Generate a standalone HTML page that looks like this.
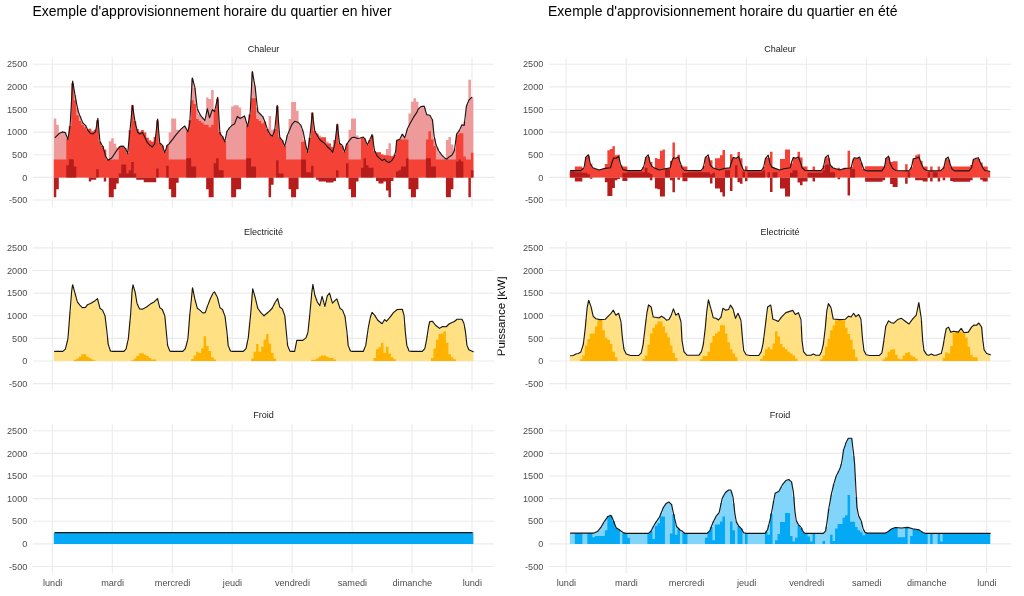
<!DOCTYPE html>
<html lang="fr"><head><meta charset="utf-8"><title>Approvisionnement horaire du quartier</title>
<style>
html,body{margin:0;padding:0;background:#fff}
body{width:1024px;height:596px;overflow:hidden}
svg{display:block;transform:translateZ(0);will-change:transform}
svg text{font-family:"Liberation Sans",Arial,Helvetica,sans-serif}
.ax text{font-size:9.15px;fill:#4d4d4d}
.st{font-size:9.05px;fill:#1a1a1a}
.ti{font-size:13.95px;fill:#000}
.yl{font-size:11.6px;fill:#000}
</style></head><body>
<svg width="1024" height="596" viewBox="0 0 1024 596"><rect width="1024" height="596" fill="#fff"/><clipPath id="cl"><rect x="497.6" y="260" width="40" height="120"/></clipPath><g clip-path="url(#cl)"><text class="yl" transform="translate(505.1 316.4) rotate(-90)" text-anchor="middle">Puissance [kW]</text></g><g stroke="#ebebeb" stroke-width="1.1"><line x1="32.9" x2="494.1" y1="200.03" y2="200.03"/><line x1="32.9" x2="494.1" y1="177.4" y2="177.4"/><line x1="32.9" x2="494.1" y1="154.77" y2="154.77"/><line x1="32.9" x2="494.1" y1="132.14" y2="132.14"/><line x1="32.9" x2="494.1" y1="109.51" y2="109.51"/><line x1="32.9" x2="494.1" y1="86.88" y2="86.88"/><line x1="32.9" x2="494.1" y1="64.25" y2="64.25"/><line x1="52.35" x2="52.35" y1="57.4" y2="207"/><line x1="112.3" x2="112.3" y1="57.4" y2="207"/><line x1="172.25" x2="172.25" y1="57.4" y2="207"/><line x1="232.2" x2="232.2" y1="57.4" y2="207"/><line x1="292.15" x2="292.15" y1="57.4" y2="207"/><line x1="352.1" x2="352.1" y1="57.4" y2="207"/><line x1="412.05" x2="412.05" y1="57.4" y2="207"/><line x1="472" x2="472" y1="57.4" y2="207"/></g><g class="ax"><text x="27.3" y="203.23" text-anchor="end">-500</text><text x="27.3" y="180.6" text-anchor="end">0</text><text x="27.3" y="157.97" text-anchor="end">500</text><text x="27.3" y="135.34" text-anchor="end">1000</text><text x="27.3" y="112.71" text-anchor="end">1500</text><text x="27.3" y="90.08" text-anchor="end">2000</text><text x="27.3" y="67.45" text-anchor="end">2500</text></g><text class="st" x="263.5" y="51.5" text-anchor="middle">Chaleur</text><g stroke="#ebebeb" stroke-width="1.1"><line x1="32.9" x2="494.1" y1="383.63" y2="383.63"/><line x1="32.9" x2="494.1" y1="361" y2="361"/><line x1="32.9" x2="494.1" y1="338.37" y2="338.37"/><line x1="32.9" x2="494.1" y1="315.74" y2="315.74"/><line x1="32.9" x2="494.1" y1="293.11" y2="293.11"/><line x1="32.9" x2="494.1" y1="270.48" y2="270.48"/><line x1="32.9" x2="494.1" y1="247.85" y2="247.85"/><line x1="52.35" x2="52.35" y1="241" y2="390.6"/><line x1="112.3" x2="112.3" y1="241" y2="390.6"/><line x1="172.25" x2="172.25" y1="241" y2="390.6"/><line x1="232.2" x2="232.2" y1="241" y2="390.6"/><line x1="292.15" x2="292.15" y1="241" y2="390.6"/><line x1="352.1" x2="352.1" y1="241" y2="390.6"/><line x1="412.05" x2="412.05" y1="241" y2="390.6"/><line x1="472" x2="472" y1="241" y2="390.6"/></g><g class="ax"><text x="27.3" y="386.83" text-anchor="end">-500</text><text x="27.3" y="364.2" text-anchor="end">0</text><text x="27.3" y="341.57" text-anchor="end">500</text><text x="27.3" y="318.94" text-anchor="end">1000</text><text x="27.3" y="296.31" text-anchor="end">1500</text><text x="27.3" y="273.68" text-anchor="end">2000</text><text x="27.3" y="251.05" text-anchor="end">2500</text></g><text class="st" x="263.5" y="235.1" text-anchor="middle">Electricité</text><g stroke="#ebebeb" stroke-width="1.1"><line x1="32.9" x2="494.1" y1="566.53" y2="566.53"/><line x1="32.9" x2="494.1" y1="543.9" y2="543.9"/><line x1="32.9" x2="494.1" y1="521.27" y2="521.27"/><line x1="32.9" x2="494.1" y1="498.64" y2="498.64"/><line x1="32.9" x2="494.1" y1="476.01" y2="476.01"/><line x1="32.9" x2="494.1" y1="453.38" y2="453.38"/><line x1="32.9" x2="494.1" y1="430.75" y2="430.75"/><line x1="52.35" x2="52.35" y1="424.3" y2="573"/><line x1="112.3" x2="112.3" y1="424.3" y2="573"/><line x1="172.25" x2="172.25" y1="424.3" y2="573"/><line x1="232.2" x2="232.2" y1="424.3" y2="573"/><line x1="292.15" x2="292.15" y1="424.3" y2="573"/><line x1="352.1" x2="352.1" y1="424.3" y2="573"/><line x1="412.05" x2="412.05" y1="424.3" y2="573"/><line x1="472" x2="472" y1="424.3" y2="573"/></g><g class="ax"><text x="27.3" y="569.73" text-anchor="end">-500</text><text x="27.3" y="547.1" text-anchor="end">0</text><text x="27.3" y="524.47" text-anchor="end">500</text><text x="27.3" y="501.84" text-anchor="end">1000</text><text x="27.3" y="479.21" text-anchor="end">1500</text><text x="27.3" y="456.58" text-anchor="end">2000</text><text x="27.3" y="433.95" text-anchor="end">2500</text></g><text class="st" x="263.5" y="418.4" text-anchor="middle">Froid</text><g stroke="#ebebeb" stroke-width="1.1"><line x1="548.9" x2="1011.2" y1="200.03" y2="200.03"/><line x1="548.9" x2="1011.2" y1="177.4" y2="177.4"/><line x1="548.9" x2="1011.2" y1="154.77" y2="154.77"/><line x1="548.9" x2="1011.2" y1="132.14" y2="132.14"/><line x1="548.9" x2="1011.2" y1="109.51" y2="109.51"/><line x1="548.9" x2="1011.2" y1="86.88" y2="86.88"/><line x1="548.9" x2="1011.2" y1="64.25" y2="64.25"/><line x1="566.1" x2="566.1" y1="57.4" y2="207"/><line x1="626.17" x2="626.17" y1="57.4" y2="207"/><line x1="686.24" x2="686.24" y1="57.4" y2="207"/><line x1="746.31" x2="746.31" y1="57.4" y2="207"/><line x1="806.38" x2="806.38" y1="57.4" y2="207"/><line x1="866.45" x2="866.45" y1="57.4" y2="207"/><line x1="926.52" x2="926.52" y1="57.4" y2="207"/><line x1="986.59" x2="986.59" y1="57.4" y2="207"/></g><g class="ax"><text x="543.3" y="203.23" text-anchor="end">-500</text><text x="543.3" y="180.6" text-anchor="end">0</text><text x="543.3" y="157.97" text-anchor="end">500</text><text x="543.3" y="135.34" text-anchor="end">1000</text><text x="543.3" y="112.71" text-anchor="end">1500</text><text x="543.3" y="90.08" text-anchor="end">2000</text><text x="543.3" y="67.45" text-anchor="end">2500</text></g><text class="st" x="780.05" y="51.5" text-anchor="middle">Chaleur</text><g stroke="#ebebeb" stroke-width="1.1"><line x1="548.9" x2="1011.2" y1="383.63" y2="383.63"/><line x1="548.9" x2="1011.2" y1="361" y2="361"/><line x1="548.9" x2="1011.2" y1="338.37" y2="338.37"/><line x1="548.9" x2="1011.2" y1="315.74" y2="315.74"/><line x1="548.9" x2="1011.2" y1="293.11" y2="293.11"/><line x1="548.9" x2="1011.2" y1="270.48" y2="270.48"/><line x1="548.9" x2="1011.2" y1="247.85" y2="247.85"/><line x1="566.1" x2="566.1" y1="241" y2="390.6"/><line x1="626.17" x2="626.17" y1="241" y2="390.6"/><line x1="686.24" x2="686.24" y1="241" y2="390.6"/><line x1="746.31" x2="746.31" y1="241" y2="390.6"/><line x1="806.38" x2="806.38" y1="241" y2="390.6"/><line x1="866.45" x2="866.45" y1="241" y2="390.6"/><line x1="926.52" x2="926.52" y1="241" y2="390.6"/><line x1="986.59" x2="986.59" y1="241" y2="390.6"/></g><g class="ax"><text x="543.3" y="386.83" text-anchor="end">-500</text><text x="543.3" y="364.2" text-anchor="end">0</text><text x="543.3" y="341.57" text-anchor="end">500</text><text x="543.3" y="318.94" text-anchor="end">1000</text><text x="543.3" y="296.31" text-anchor="end">1500</text><text x="543.3" y="273.68" text-anchor="end">2000</text><text x="543.3" y="251.05" text-anchor="end">2500</text></g><text class="st" x="780.05" y="235.1" text-anchor="middle">Electricité</text><g stroke="#ebebeb" stroke-width="1.1"><line x1="548.9" x2="1011.2" y1="566.53" y2="566.53"/><line x1="548.9" x2="1011.2" y1="543.9" y2="543.9"/><line x1="548.9" x2="1011.2" y1="521.27" y2="521.27"/><line x1="548.9" x2="1011.2" y1="498.64" y2="498.64"/><line x1="548.9" x2="1011.2" y1="476.01" y2="476.01"/><line x1="548.9" x2="1011.2" y1="453.38" y2="453.38"/><line x1="548.9" x2="1011.2" y1="430.75" y2="430.75"/><line x1="566.1" x2="566.1" y1="424.3" y2="573"/><line x1="626.17" x2="626.17" y1="424.3" y2="573"/><line x1="686.24" x2="686.24" y1="424.3" y2="573"/><line x1="746.31" x2="746.31" y1="424.3" y2="573"/><line x1="806.38" x2="806.38" y1="424.3" y2="573"/><line x1="866.45" x2="866.45" y1="424.3" y2="573"/><line x1="926.52" x2="926.52" y1="424.3" y2="573"/><line x1="986.59" x2="986.59" y1="424.3" y2="573"/></g><g class="ax"><text x="543.3" y="569.73" text-anchor="end">-500</text><text x="543.3" y="547.1" text-anchor="end">0</text><text x="543.3" y="524.47" text-anchor="end">500</text><text x="543.3" y="501.84" text-anchor="end">1000</text><text x="543.3" y="479.21" text-anchor="end">1500</text><text x="543.3" y="456.58" text-anchor="end">2000</text><text x="543.3" y="433.95" text-anchor="end">2500</text></g><text class="st" x="780.05" y="418.4" text-anchor="middle">Froid</text><path fill="#ef9a9a" d="M53.8 177.4H56.3V118.42H53.8ZM56.3 177.4H58.79V124.71H56.3ZM58.79 177.4H61.29V133.02H58.79ZM61.29 177.4H63.79V131.97H61.29ZM63.79 177.4H66.29V132.57H63.79ZM66.29 177.4H68.78V138.51H66.29ZM68.78 177.4H71.28V126.03H68.78ZM71.28 177.4H73.78V83.34H71.28ZM73.78 177.4H76.28V95.24H73.78ZM76.28 177.4H78.78V108.13H76.28ZM78.78 177.4H81.27V116.06H78.78ZM81.27 177.4H83.77V122.3H81.27ZM83.77 177.4H86.27V124.91H83.77ZM86.27 177.4H88.77V129.38H86.27ZM88.77 177.4H91.26V128.67H88.77ZM91.26 177.4H93.76V131.51H91.26ZM93.76 177.4H96.26V129.83H93.76ZM96.26 177.4H98.75V120.33H96.26ZM98.75 177.4H101.25V141.76H98.75ZM101.25 177.4H103.75V145.95H101.25ZM103.75 177.4H106.25V149.83H103.75ZM106.25 177.4H108.75V159.22H106.25ZM108.75 177.4H111.24V141.33H108.75ZM111.24 177.4H113.74V138.18H111.24ZM113.74 177.4H116.24V143.84H113.74ZM116.24 177.4H118.73V147.62H116.24ZM118.73 177.4H121.23V146.51H118.73ZM121.23 177.4H123.73V146.17H121.23ZM123.73 177.4H126.23V148H123.73ZM126.23 177.4H128.72V153.19H126.23ZM128.72 177.4H131.22V130.25H128.72ZM131.22 177.4H133.72V105.37H131.22ZM133.72 177.4H136.22V121.26H133.72ZM136.22 177.4H138.72V128.96H136.22ZM138.72 177.4H141.21V131.77H138.72ZM141.21 177.4H143.71V130.09H141.21ZM143.71 177.4H146.21V132.53H143.71ZM146.21 177.4H148.7V137.82H146.21ZM148.7 177.4H151.2V140.47H148.7ZM151.2 177.4H153.7V141.85H151.2ZM153.7 177.4H156.2V137.08H153.7ZM156.2 177.4H158.69V120.52H156.2ZM158.69 177.4H161.19V143.12H158.69ZM161.19 177.4H163.69V145.6H161.19ZM163.69 177.4H166.19V152.21H163.69ZM166.19 177.4H168.69V145.02H166.19ZM168.69 177.4H171.18V132.27H168.69ZM171.18 177.4H176.18V118.42H171.18ZM176.18 177.4H178.68V129.75H176.18ZM178.68 177.4H181.17V130.3H178.68ZM181.17 177.4H183.67V127.9H181.17ZM183.67 177.4H186.17V126.31H183.67ZM186.17 177.4H188.67V130.8H186.17ZM188.67 177.4H191.16V120.21H188.67ZM191.16 177.4H193.66V78.47H191.16ZM193.66 177.4H196.16V87.9H193.66ZM196.16 177.4H198.65V109.16H196.16ZM198.65 177.4H201.15V114.15H198.65ZM201.15 177.4H203.65V117.6H201.15ZM203.65 177.4H206.15V120.43H203.65ZM206.15 177.4H208.64V97.4H206.15ZM208.64 177.4H211.14V98.91H208.64ZM211.14 177.4H213.64V90.1H211.14ZM213.64 177.4H216.14V110.03H213.64ZM216.14 177.4H218.63V98.84H216.14ZM218.63 177.4H221.13V132.09H218.63ZM221.13 177.4H223.63V136.53H221.13ZM223.63 177.4H226.13V141.13H223.63ZM226.13 177.4H228.62V130.92H226.13ZM228.62 177.4H231.12V127.4H228.62ZM231.12 177.4H233.62V106.47H231.12ZM233.62 177.4H238.62V105.21H233.62ZM238.62 177.4H241.11V107.47H238.62ZM241.11 177.4H243.61V117.14H241.11ZM243.61 177.4H246.11V117.07H243.61ZM246.11 177.4H248.61V125.56H246.11ZM248.61 177.4H251.1V114.55H248.61ZM251.1 177.4H253.6V71.78H251.1ZM253.6 177.4H256.1V85.57H253.6ZM256.1 177.4H258.6V107.84H256.1ZM258.6 177.4H261.09V113.61H258.6ZM261.09 177.4H263.59V116.11H261.09ZM263.59 177.4H266.09V121.72H263.59ZM266.09 177.4H268.58V128.99H266.09ZM268.58 177.4H271.08V115.9H268.58ZM271.08 177.4H273.58V129.75H271.08ZM273.58 177.4H276.08V129.32H273.58ZM276.08 177.4H278.57V106.31H276.08ZM278.57 177.4H281.07V137.38H278.57ZM281.07 177.4H283.57V140.55H281.07ZM283.57 177.4H286.07V146H283.57ZM286.07 177.4H288.56V135.39H286.07ZM288.56 177.4H291.06V119.05H288.56ZM291.06 177.4H296.06V102.06H291.06ZM296.06 177.4H298.56V110.87H296.06ZM298.56 177.4H301.05V124.19H298.56ZM301.05 177.4H303.55V129.38H301.05ZM303.55 177.4H306.05V139.96H303.55ZM306.05 177.4H308.55V151.5H306.05ZM308.55 177.4H311.04V137.66H308.55ZM311.04 177.4H313.54V112.81H311.04ZM313.54 177.4H316.04V130.92H313.54ZM316.04 177.4H318.54V133.04H316.04ZM318.54 177.4H321.03V135.52H318.54ZM321.03 177.4H323.53V137.45H321.03ZM323.53 177.4H326.03V139.32H323.53ZM326.03 177.4H328.53V141.39H326.03ZM328.53 177.4H331.02V143.63H328.53ZM331.02 177.4H333.52V146.65H331.02ZM333.52 177.4H336.02V140.1H333.52ZM336.02 177.4H338.52V124.59H336.02ZM338.52 177.4H341.01V143.69H338.52ZM341.01 177.4H343.51V145.84H341.01ZM343.51 177.4H346.01V152.01H343.51ZM346.01 177.4H348.5V143.47H346.01ZM348.5 177.4H351V129.75H348.5ZM351 177.4H356V118.42H351ZM356 177.4H358.5V135.41H356ZM358.5 177.4H360.99V138.02H358.5ZM360.99 177.4H363.49V137.33H360.99ZM363.49 177.4H365.99V138.73H363.49ZM365.99 177.4H368.49V144.72H365.99ZM368.49 177.4H370.98V140.02H368.49ZM370.98 177.4H373.48V135.59H370.98ZM373.48 177.4H375.98V151.05H373.48ZM375.98 177.4H378.48V152.35H375.98ZM378.48 177.4H380.97V152.32H378.48ZM380.97 177.4H383.47V154.44H380.97ZM383.47 177.4H385.97V155.33H383.47ZM385.97 177.4H388.47V148.88H385.97ZM388.47 177.4H390.96V143.22H388.47ZM390.96 177.4H393.46V156.31H390.96ZM393.46 177.4H395.96V154.69H393.46ZM395.96 177.4H398.46V140.21H395.96ZM398.46 177.4H400.95V139.21H398.46ZM400.95 177.4H403.45V134.3H400.95ZM403.45 177.4H405.95V137.79H403.45ZM405.95 177.4H408.44V129.51H405.95ZM408.44 177.4H410.94V113.39H408.44ZM410.94 177.4H413.44V101.68H410.94ZM413.44 177.4H415.94V98.28H413.44ZM415.94 177.4H418.44V101.68H415.94ZM418.44 177.4H420.93V107.81H418.44ZM420.93 177.4H423.43V106.33H420.93ZM423.43 177.4H425.93V107.81H423.43ZM425.93 177.4H428.43V114.74H425.93ZM428.43 177.4H430.92V115.24H428.43ZM430.92 177.4H433.42V119.36H430.92ZM433.42 177.4H435.92V138.58H433.42ZM435.92 177.4H438.42V147.44H435.92ZM438.42 177.4H440.91V152.19H438.42ZM440.91 177.4H443.41V155.54H440.91ZM443.41 177.4H445.91V157.9H443.41ZM445.91 177.4H448.41V140.07H445.91ZM448.41 177.4H450.9V136.92H448.41ZM450.9 177.4H453.4V144.47H450.9ZM453.4 177.4H455.9V148.79H453.4ZM455.9 177.4H458.4V133.47H455.9ZM458.4 177.4H460.89V129.86H458.4ZM460.89 177.4H463.39V124.77H460.89ZM463.39 177.4H465.89V121.43H463.39ZM465.89 177.4H468.39V104.46H465.89ZM468.39 177.4H470.88V79.78H468.39ZM470.88 177.4H473.38V97.4H470.88Z"/><path fill="#f44336" d="M53.8 177.4H66.29V159.57H53.8ZM66.29 177.4H68.78V138.51H66.29ZM68.78 177.4H71.28V126.03H68.78ZM71.28 177.4H73.78V83.34H71.28ZM73.78 177.4H76.28V100.17H73.78ZM76.28 177.4H78.78V115.28H76.28ZM78.78 177.4H81.27V120.94H78.78ZM81.27 177.4H83.77V124.71H81.27ZM83.77 177.4H86.27V127.23H83.77ZM86.27 177.4H88.77V129.38H86.27ZM88.77 177.4H91.26V128.67H88.77ZM91.26 177.4H93.76V131.51H91.26ZM93.76 177.4H96.26V129.83H93.76ZM96.26 177.4H98.75V120.33H96.26ZM98.75 177.4H101.25V141.76H98.75ZM101.25 177.4H103.75V145.95H101.25ZM103.75 177.4H106.25V149.83H103.75ZM106.25 177.4H118.73V159.57H106.25ZM118.73 177.4H121.23V146.51H118.73ZM121.23 177.4H123.73V146.17H121.23ZM123.73 177.4H126.23V148H123.73ZM126.23 177.4H128.72V153.19H126.23ZM128.72 177.4H131.22V130.25H128.72ZM131.22 177.4H133.72V105.37H131.22ZM133.72 177.4H136.22V121.26H133.72ZM136.22 177.4H138.72V128.96H136.22ZM138.72 177.4H141.21V131.77H138.72ZM141.21 177.4H143.71V130.09H141.21ZM143.71 177.4H146.21V132.53H143.71ZM146.21 177.4H148.7V137.82H146.21ZM148.7 177.4H151.2V140.47H148.7ZM151.2 177.4H153.7V141.85H151.2ZM153.7 177.4H156.2V137.08H153.7ZM156.2 177.4H158.69V120.52H156.2ZM158.69 177.4H161.19V143.12H158.69ZM161.19 177.4H163.69V145.6H161.19ZM163.69 177.4H166.19V152.21H163.69ZM166.19 177.4H168.69V145.02H166.19ZM168.69 177.4H186.17V159.57H168.69ZM186.17 177.4H188.67V130.8H186.17ZM188.67 177.4H191.16V120.21H188.67ZM191.16 177.4H193.66V100.17H191.16ZM193.66 177.4H196.16V103.95H193.66ZM196.16 177.4H198.65V119.05H196.16ZM198.65 177.4H201.15V120.94H198.65ZM201.15 177.4H203.65V122.83H201.15ZM203.65 177.4H208.64V124.71H203.65ZM208.64 177.4H211.14V127.23H208.64ZM211.14 177.4H213.64V124.71H211.14ZM213.64 177.4H216.14V110.03H213.64ZM216.14 177.4H218.63V98.84H216.14ZM218.63 177.4H221.13V132.09H218.63ZM221.13 177.4H223.63V136.53H221.13ZM223.63 177.4H226.13V141.13H223.63ZM226.13 177.4H246.11V159.57H226.13ZM246.11 177.4H248.61V125.56H246.11ZM248.61 177.4H251.1V114.55H248.61ZM251.1 177.4H256.1V98.28H251.1ZM256.1 177.4H258.6V119.05H256.1ZM258.6 177.4H261.09V120.94H258.6ZM261.09 177.4H263.59V123.46H261.09ZM263.59 177.4H266.09V121.72H263.59ZM266.09 177.4H268.58V128.99H266.09ZM268.58 177.4H271.08V134.15H268.58ZM271.08 177.4H273.58V136.04H271.08ZM273.58 177.4H276.08V129.32H273.58ZM276.08 177.4H278.57V106.31H276.08ZM278.57 177.4H281.07V137.38H278.57ZM281.07 177.4H283.57V140.55H281.07ZM283.57 177.4H286.07V146H283.57ZM286.07 177.4H301.05V159.57H286.07ZM301.05 177.4H306.05V141.71H301.05ZM306.05 177.4H308.55V151.5H306.05ZM308.55 177.4H311.04V137.66H308.55ZM311.04 177.4H313.54V112.81H311.04ZM313.54 177.4H316.04V130.92H313.54ZM316.04 177.4H318.54V134.15H316.04ZM318.54 177.4H321.03V137.68H318.54ZM321.03 177.4H326.03V137.3H321.03ZM326.03 177.4H331.02V143.59H326.03ZM331.02 177.4H333.52V147.37H331.02ZM333.52 177.4H336.02V140.1H333.52ZM336.02 177.4H338.52V124.59H336.02ZM338.52 177.4H341.01V143.69H338.52ZM341.01 177.4H343.51V145.84H341.01ZM343.51 177.4H346.01V152.01H343.51ZM346.01 177.4H348.5V143.47H346.01ZM348.5 177.4H360.99V159.57H348.5ZM360.99 177.4H363.49V137.33H360.99ZM363.49 177.4H365.99V138.73H363.49ZM365.99 177.4H368.49V144.72H365.99ZM368.49 177.4H370.98V140.02H368.49ZM370.98 177.4H373.48V135.59H370.98ZM373.48 177.4H375.98V151.05H373.48ZM375.98 177.4H378.48V152.35H375.98ZM378.48 177.4H380.97V152.32H378.48ZM380.97 177.4H383.47V154.44H380.97ZM383.47 177.4H385.97V155.33H383.47ZM385.97 177.4H388.47V155.17H385.97ZM388.47 177.4H390.96V155.8H388.47ZM390.96 177.4H393.46V156.31H390.96ZM393.46 177.4H395.96V154.69H393.46ZM395.96 177.4H398.46V139.82H395.96ZM398.46 177.4H408.44V139.44H398.46ZM408.44 177.4H425.93V159.57H408.44ZM425.93 177.4H428.43V139.44H425.93ZM428.43 177.4H430.92V131.26H428.43ZM430.92 177.4H433.42V139.44H430.92ZM433.42 177.4H435.92V146.36H433.42ZM435.92 177.4H455.9V159.57H435.92ZM455.9 177.4H458.4V135.03H455.9ZM458.4 177.4H463.39V133.15H458.4ZM463.39 177.4H465.89V156.43H463.39ZM465.89 177.4H470.88V159.57H465.89ZM470.88 177.4H473.38V152.65H470.88Z"/><path fill="#b71c1c" d="M66.29 177.4H68.78V165.24H66.29ZM68.78 177.4H73.78V159.2H68.78ZM73.78 177.4H76.28V166.5H73.78ZM96.26 177.4H98.75V169.27H96.26ZM118.73 177.4H121.23V173.42H118.73ZM121.23 177.4H126.23V164.61H121.23ZM126.23 177.4H128.72V173.42H126.23ZM128.72 177.4H131.22V170.28H128.72ZM131.22 177.4H133.72V162.09H131.22ZM133.72 177.4H136.22V173.42H133.72ZM156.2 177.4H158.69V168.39H156.2ZM166.19 177.4H168.69V165.87H166.19ZM186.17 177.4H191.16V158.32H186.17ZM191.16 177.4H196.16V166.5H191.16ZM213.64 177.4H216.14V163.35H213.64ZM216.14 177.4H218.63V158.32H216.14ZM218.63 177.4H223.63V170.28H218.63ZM246.11 177.4H251.1V158.32H246.11ZM251.1 177.4H256.1V166.5H251.1ZM276.08 177.4H278.57V160.21H276.08ZM278.57 177.4H283.57V173.42H278.57ZM301.05 177.4H306.05V159.58H301.05ZM306.05 177.4H311.04V172.16H306.05ZM311.04 177.4H313.54V165.87H311.04ZM336.02 177.4H338.52V170.28H336.02ZM346.01 177.4H348.5V163.35H346.01ZM360.99 177.4H363.49V167.76H360.99ZM363.49 177.4H365.99V158.32H363.49ZM365.99 177.4H368.49V165.24H365.99ZM368.49 177.4H373.48V167.76H368.49ZM395.96 177.4H398.46V171.53H395.96ZM398.46 177.4H400.95V170.28H398.46ZM400.95 177.4H405.95V166.5H400.95ZM405.95 177.4H408.44V158.32H405.95ZM425.93 177.4H430.92V158.32H425.93ZM430.92 177.4H435.92V166.5H430.92ZM455.9 177.4H458.4V161.47H455.9ZM458.4 177.4H460.89V159.58H458.4ZM460.89 177.4H463.39V161.47H460.89ZM470.88 177.4H473.38V170.28H470.88Z"/><path fill="#b71c1c" d="M53.8 177.4H56.3V197.34H53.8ZM56.3 177.4H58.79V189.15H56.3ZM88.77 177.4H91.26V181.6H88.77ZM91.26 177.4H96.26V179.71H91.26ZM103.75 177.4H106.25V181.6H103.75ZM108.75 177.4H113.74V197.34H108.75ZM113.74 177.4H116.24V189.15H113.74ZM116.24 177.4H118.73V183.49H116.24ZM136.22 177.4H143.71V179.71H136.22ZM143.71 177.4H156.2V182.23H143.71ZM168.69 177.4H171.18V189.15H168.69ZM171.18 177.4H176.18V197.34H171.18ZM176.18 177.4H178.68V182.86H176.18ZM206.15 177.4H208.64V189.15H206.15ZM208.64 177.4H213.64V197.34H208.64ZM231.12 177.4H236.12V197.34H231.12ZM236.12 177.4H241.11V189.15H236.12ZM268.58 177.4H271.08V197.34H268.58ZM271.08 177.4H273.58V184.75H271.08ZM288.56 177.4H291.06V189.15H288.56ZM291.06 177.4H296.06V197.34H291.06ZM296.06 177.4H298.56V189.15H296.06ZM316.04 177.4H318.54V179.71H316.04ZM318.54 177.4H326.03V181.6H318.54ZM326.03 177.4H333.52V182.61H326.03ZM333.52 177.4H336.02V180.97H333.52ZM348.5 177.4H351V189.15H348.5ZM351 177.4H356V197.34H351ZM356 177.4H358.5V181.6H356ZM375.98 177.4H378.48V180.97H375.98ZM378.48 177.4H383.47V183.49H378.48ZM383.47 177.4H385.97V181.6H383.47ZM385.97 177.4H388.47V190.41H385.97ZM388.47 177.4H390.96V197.34H388.47ZM390.96 177.4H393.46V180.97H390.96ZM408.44 177.4H410.94V189.15H408.44ZM410.94 177.4H415.94V197.34H410.94ZM415.94 177.4H418.44V189.15H415.94ZM445.91 177.4H450.9V197.34H445.91ZM450.9 177.4H453.4V189.15H450.9ZM468.39 177.4H470.88V197.34H468.39Z"/><polyline fill="none" stroke="#161616" stroke-width="1.12" stroke-linejoin="round" stroke-linecap="round" points="55.29,137.3 59.07,133.53 62.22,131.89 65.36,132.64 67.88,139.44 70.14,125.34 72.66,81.04 75.43,97.65 78.2,111.5 80.47,117.16 82.73,122.83 85.5,125.34 88.02,130.38 90.53,133.53 93.05,133.9 95.57,131.64 97.83,118.42 99.97,141.71 103.12,146.99 105.64,156.43 108.15,160.21 111.93,157.69 116.96,150.14 120.11,146.36 123.26,146.11 125.77,148.88 127.66,153.66 132.45,105.21 135.21,122.83 137.73,132.27 139.87,134.15 142.39,132.27 144.65,136.67 147.17,142.34 149.69,145.1 152.21,146.99 154.72,143.84 157.62,119.05 159.76,142.96 162.27,145.1 164.79,152.65 167.31,145.1 169,143.97 172.78,139.19 176.55,134.15 180.96,129.12 184.73,125.97 187.88,131.64 189.77,122.83 192.28,78.02 194.8,86.96 197.32,108.98 200.47,115.28 204.87,120.56 207.39,108.73 209.53,117.79 212.42,109.61 214.56,111.5 217.71,97.4 219.97,133.53 222.49,136.67 224.76,141.71 226.9,131.64 229.41,127.86 231.93,125.34 234.45,124.09 237.34,116.53 240.11,118.42 244.52,115.9 247.66,126.6 250.18,112.76 252.32,71.6 255.21,87.59 257.73,111.5 262.77,116.53 265.28,122.83 267.8,130.38 270.32,134.78 272.46,136.04 274.72,130.38 277.24,105.21 279.76,137.3 282.27,140.45 284.79,146.11 287.31,135.41 290.46,127.86 292.15,124.09 294.66,121.32 297.81,122.2 300.96,125.34 303.47,132.9 305.36,142.96 307.5,152.4 309.77,137.93 312.28,112.76 314.8,131.01 317.32,135.41 319.84,139.82 322.35,141.71 324.87,143.59 327.39,146.74 330.53,149.51 332.67,152.4 334.94,142.96 337.2,124.09 339.6,143.59 341.86,144.85 344.76,152.03 346.27,144.85 349.41,140.45 351.93,137.55 354.45,137.3 357.59,138.56 360.11,137.93 363.26,137.05 365.15,139.19 367.29,144.85 369.55,140.45 372.07,134.53 374.59,150.77 377.1,155.8 379.62,158.32 382.14,160.58 384.4,159.2 386.54,161.47 389.06,162.47 391.58,160.84 394.09,157.06 395.73,150.77 396.61,140.45 399.76,139.19 402.27,134.15 404.79,137.93 407.31,129.12 410.46,122.83 413.6,117.16 417,112.13 417.88,109.61 421.03,106.47 424.17,106.09 426.69,114.65 429.84,115.28 432.35,119.68 434.24,136.67 436.13,145.1 438.65,150.77 441.79,155.17 444.31,157.69 446.83,159.2 449.34,156.68 451.86,155.17 454.38,150.77 456.64,134.15 459.41,130.38 461.93,124.71 464.2,125.34 466.34,106.47 468.85,100.17 471.75,97.4"/><path fill="#ef9a9a" d=""/><path fill="#f44336" d="M569.85 177.4H574.85V170.65H569.85ZM574.85 177.4H582.36V166.5H574.85ZM582.36 177.4H584.86V168.14H582.36ZM584.86 177.4H587.36V156.88H584.86ZM587.36 177.4H589.87V155.69H587.36ZM589.87 177.4H592.37V163.75H589.87ZM592.37 177.4H594.87V168.04H592.37ZM594.87 177.4H597.37V168.94H594.87ZM597.37 177.4H599.87V169.84H597.37ZM599.87 177.4H602.38V169.45H599.87ZM602.38 177.4H604.88V168.72H602.38ZM604.88 177.4H607.38V163.98H604.88ZM607.38 177.4H609.88V150.14H607.38ZM609.88 177.4H612.38V148.88H609.88ZM612.38 177.4H614.89V146.36H612.38ZM614.89 177.4H617.39V155.36H614.89ZM617.39 177.4H619.89V154.75H617.39ZM619.89 177.4H622.39V165.37H619.89ZM622.39 177.4H627.4V166.5H622.39ZM627.4 177.4H642.41V170.65H627.4ZM642.41 177.4H644.91V166.75H642.41ZM644.91 177.4H647.41V157.16H644.91ZM647.41 177.4H649.91V156.68H647.41ZM649.91 177.4H652.42V161.91H649.91ZM652.42 177.4H654.92V167.51H652.42ZM654.92 177.4H657.42V157.94H654.92ZM657.42 177.4H659.92V158.95H657.42ZM659.92 177.4H662.42V150.77H659.92ZM662.42 177.4H664.93V149.51H662.42ZM664.93 177.4H667.43V168.57H664.93ZM667.43 177.4H669.93V168.07H667.43ZM669.93 177.4H672.43V160.89H669.93ZM672.43 177.4H674.93V142.59H672.43ZM674.93 177.4H677.44V158.18H674.93ZM677.44 177.4H679.94V154.79H677.44ZM679.94 177.4H682.44V165.34H679.94ZM682.44 177.4H687.44V166.5H682.44ZM687.44 177.4H689.95V170.56H687.44ZM689.95 177.4H692.45V170.58H689.95ZM692.45 177.4H694.95V170.6H692.45ZM694.95 177.4H697.45V170.62H694.95ZM697.45 177.4H699.95V170.64H697.45ZM699.95 177.4H702.46V170.28H699.95ZM702.46 177.4H704.96V166.1H702.46ZM704.96 177.4H707.46V156.76H704.96ZM707.46 177.4H709.96V157.39H707.46ZM709.96 177.4H712.46V160.21H709.96ZM712.46 177.4H714.97V168.07H712.46ZM714.97 177.4H719.97V158.32H714.97ZM719.97 177.4H722.47V155.17H719.97ZM722.47 177.4H724.97V149.89H722.47ZM724.97 177.4H727.48V168.21H724.97ZM727.48 177.4H729.98V167.9H727.48ZM729.98 177.4H732.48V154.17H729.98ZM732.48 177.4H734.98V157.56H732.48ZM734.98 177.4H737.48V158.25H734.98ZM737.48 177.4H739.99V152.03H737.48ZM739.99 177.4H742.49V158.32H739.99ZM742.49 177.4H744.99V170.07H742.49ZM744.99 177.4H747.49V166.25H744.99ZM747.49 177.4H762.5V170.65H747.49ZM762.5 177.4H765.01V166.77H762.5ZM765.01 177.4H767.51V157.73H765.01ZM767.51 177.4H770.01V157.71H767.51ZM770.01 177.4H772.51V151.65H770.01ZM772.51 177.4H775.01V167.84H772.51ZM775.01 177.4H777.52V168.81H775.01ZM777.52 177.4H780.02V169.74H777.52ZM780.02 177.4H785.02V158.95H780.02ZM785.02 177.4H790.03V149.51H785.02ZM790.03 177.4H792.53V163.44H790.03ZM792.53 177.4H795.03V157.57H792.53ZM795.03 177.4H797.53V158.13H795.03ZM797.53 177.4H800.03V151.65H797.53ZM800.03 177.4H802.54V157.44H800.03ZM802.54 177.4H807.54V166.5H802.54ZM807.54 177.4H810.04V170.56H807.54ZM810.04 177.4H812.54V170.58H810.04ZM812.54 177.4H815.05V166.5H812.54ZM815.05 177.4H817.55V170.62H815.05ZM817.55 177.4H820.05V170.64H817.55ZM820.05 177.4H822.55V170.17H820.05ZM822.55 177.4H825.05V165.59H822.55ZM825.05 177.4H827.56V156.8H825.05ZM827.56 177.4H830.06V158.13H827.56ZM830.06 177.4H832.56V166.23H830.06ZM832.56 177.4H835.06V168.08H832.56ZM835.06 177.4H837.56V168.9H835.06ZM837.56 177.4H840.07V167.78H837.56ZM840.07 177.4H842.57V169.52H840.07ZM842.57 177.4H845.07V168.7H842.57ZM845.07 177.4H847.57V168.3H845.07ZM847.57 177.4H850.07V150.77H847.57ZM850.07 177.4H852.58V166.97H850.07ZM852.58 177.4H855.08V158.62H852.58ZM855.08 177.4H857.58V158.11H855.08ZM857.58 177.4H860.08V157.51H857.58ZM860.08 177.4H862.58V162.52H860.08ZM862.58 177.4H865.09V168.91H862.58ZM865.09 177.4H885.1V166.37H865.09ZM885.1 177.4H887.6V158.07H885.1ZM887.6 177.4H890.11V157.24H887.6ZM890.11 177.4H892.61V162.09H890.11ZM892.61 177.4H897.61V161.21H892.61ZM897.61 177.4H900.11V170.62H897.61ZM900.11 177.4H902.62V170.69H900.11ZM902.62 177.4H905.12V170.76H902.62ZM905.12 177.4H907.62V164.23H905.12ZM907.62 177.4H910.12V170.9H907.62ZM910.12 177.4H912.62V167.22H910.12ZM912.62 177.4H915.13V158.62H912.62ZM915.13 177.4H917.63V155.19H915.13ZM917.63 177.4H920.13V154.18H917.63ZM920.13 177.4H922.63V160.78H920.13ZM922.63 177.4H927.64V166.5H922.63ZM927.64 177.4H930.14V170.78H927.64ZM930.14 177.4H932.64V166.5H930.14ZM932.64 177.4H935.14V170.81H932.64ZM935.14 177.4H937.64V170.75H935.14ZM937.64 177.4H940.15V166.5H937.64ZM940.15 177.4H942.65V169.99H940.15ZM942.65 177.4H945.15V166.5H942.65ZM945.15 177.4H947.65V158.43H945.15ZM947.65 177.4H950.15V159.52H947.65ZM950.15 177.4H970.17V166.5H950.15ZM970.17 177.4H972.67V164.93H970.17ZM972.67 177.4H975.17V159.32H972.67ZM975.17 177.4H977.68V158.19H975.17ZM977.68 177.4H980.18V158.99H977.68ZM980.18 177.4H982.68V162.61H980.18ZM982.68 177.4H987.68V166.5H982.68ZM987.68 177.4H990.19V171.16H987.68Z"/><path fill="#b71c1c" d="M569.85 177.4H574.85V171.53H569.85ZM574.85 177.4H582.36V172.16H574.85ZM582.36 177.4H587.36V172.79H582.36ZM587.36 177.4H589.87V174.3H587.36ZM622.39 177.4H627.4V172.79H622.39ZM627.4 177.4H644.91V172.16H627.4ZM644.91 177.4H647.41V167.76H644.91ZM647.41 177.4H649.91V172.79H647.41ZM649.91 177.4H652.42V174.05H649.91ZM664.93 177.4H669.93V169.02H664.93ZM682.44 177.4H687.44V172.79H682.44ZM687.44 177.4H709.96V172.16H687.44ZM709.96 177.4H712.46V174.3H709.96ZM712.46 177.4H714.97V172.79H712.46ZM724.97 177.4H729.98V170.28H724.97ZM734.98 177.4H737.48V165.24H734.98ZM742.49 177.4H744.99V171.53H742.49ZM747.49 177.4H762.5V172.16H747.49ZM762.5 177.4H765.01V170.28H762.5ZM767.51 177.4H770.01V172.16H767.51ZM772.51 177.4H777.52V172.16H772.51ZM790.03 177.4H792.53V172.79H790.03ZM792.53 177.4H797.53V170.28H792.53ZM807.54 177.4H822.55V172.79H807.54ZM822.55 177.4H825.05V170.28H822.55ZM825.05 177.4H830.06V164.61H825.05ZM830.06 177.4H835.06V172.16H830.06ZM850.07 177.4H855.08V169.02H850.07ZM907.62 177.4H910.12V172.16H907.62ZM927.64 177.4H930.14V172.16H927.64ZM932.64 177.4H937.64V172.16H932.64Z"/><path fill="#b71c1c" d="M574.85 177.4H582.36V181.6H574.85ZM589.87 177.4H592.37V178.83H589.87ZM604.88 177.4H607.38V182.23H604.88ZM607.38 177.4H612.38V196.08H607.38ZM612.38 177.4H614.89V187.9H612.38ZM614.89 177.4H617.39V180.34H614.89ZM617.39 177.4H619.89V179.09H617.39ZM622.39 177.4H627.4V180.97H622.39ZM649.91 177.4H652.42V180.34H649.91ZM654.92 177.4H657.42V188.53H654.92ZM657.42 177.4H659.92V189.15H657.42ZM659.92 177.4H664.93V196.45H659.92ZM669.93 177.4H672.43V180.34H669.93ZM672.43 177.4H674.93V192.3H672.43ZM677.44 177.4H679.94V179.71H677.44ZM682.44 177.4H687.44V181.35H682.44ZM709.96 177.4H712.46V183.49H709.96ZM714.97 177.4H719.97V188.53H714.97ZM719.97 177.4H722.47V192.3H719.97ZM722.47 177.4H724.97V196.45H722.47ZM729.98 177.4H732.48V191.04H729.98ZM737.48 177.4H739.99V182.23H737.48ZM739.99 177.4H742.49V183.87H739.99ZM744.99 177.4H747.49V181.35H744.99ZM770.01 177.4H772.51V192.05H770.01ZM780.02 177.4H785.02V188.53H780.02ZM785.02 177.4H790.03V196.45H785.02ZM797.53 177.4H800.03V182.61H797.53ZM800.03 177.4H802.54V185.13H800.03ZM802.54 177.4H807.54V181.6H802.54ZM812.54 177.4H815.05V181.6H812.54ZM837.56 177.4H840.07V179.34H837.56ZM847.57 177.4H850.07V195.45H847.57ZM865.09 177.4H882.6V181.85H865.09ZM882.6 177.4H885.1V180.34H882.6ZM890.11 177.4H892.61V184.12H890.11ZM892.61 177.4H897.61V186.89H892.61ZM905.12 177.4H907.62V183.87H905.12ZM915.13 177.4H922.63V180.34H915.13ZM922.63 177.4H927.64V181.6H922.63ZM930.14 177.4H932.64V181.6H930.14ZM937.64 177.4H940.15V181.6H937.64ZM942.65 177.4H945.15V180.34H942.65ZM950.15 177.4H952.66V180.97H950.15ZM952.66 177.4H970.17V181.85H952.66ZM970.17 177.4H972.67V180.34H970.17ZM980.18 177.4H982.68V179.71H980.18ZM982.68 177.4H987.68V181.6H982.68Z"/><polyline fill="none" stroke="#161616" stroke-width="1.12" stroke-linejoin="round" stroke-linecap="round" points="570.56,170.65 580.88,170.65 584.03,167.76 585.91,157.06 588.43,154.79 590.32,163.98 592.84,167.76 599.13,170.02 604.79,168.39 610.46,167.76 612.34,161.47 613.6,157.94 616.12,158.32 618.64,156.43 620.53,163.98 623.04,169.65 627.45,170.65 641.29,170.65 643.81,166.5 645.7,157.69 648.21,154.79 650.1,162.72 651.99,166.5 655.14,168.39 659.54,170.02 663.95,169.02 670.24,167.76 671.75,161.47 673.39,157.69 675.9,158.32 678.42,157.06 680.31,162.72 682,167.76 684.52,170.53 700.88,170.65 703.4,167.76 705.28,157.69 708.18,154.79 710.32,165.24 712.84,167.76 719.13,170.02 724.79,168.39 729.83,167.76 731.71,161.47 733.35,157.44 736.12,158.32 738.64,156.68 740.9,163.98 743.42,170.02 747.45,170.65 761.29,170.65 763.56,167.76 765.32,158.95 768.21,155.17 770.1,163.98 771.99,167.13 775.14,168.39 779.54,170.02 783.95,168.76 790.24,167.76 791.75,161.47 793.39,157.44 795.9,158.32 798.42,157.06 800.56,162.72 802,167.76 805.15,170.53 820.88,170.65 823.4,167.76 825.28,157.69 828.18,155.17 830.32,165.24 832.84,167.76 839.76,170.02 844.79,168.39 851.09,168.01 852.6,161.47 854.23,157.69 857.38,158.32 859.64,157.06 861.78,163.98 864.3,170.02 867.45,170.9 881.92,170.9 884.44,167.13 886.07,158.32 888.59,156.05 890.35,163.98 892.62,168.39 895.77,170.53 908.98,170.9 911.25,167.76 913.39,158.7 915.9,158.32 919.05,157.06 920.94,162.72 923.46,168.39 926.6,170.53 929.98,170.9 940.68,170.65 943.83,167.76 945.71,158.95 948.23,157.06 950.12,163.98 952.01,169.02 954.53,170.9 969,170.9 971.52,167.76 973.4,159.58 975.92,158.32 978.44,157.69 980.33,162.72 982.84,167.76 984.73,170.53 989.77,171.28"/><path fill="#ffe082" d="M53.8 361H63.79V351.42H53.8ZM63.79 361H66.29V349.45H63.79ZM66.29 361H68.78V340.46H66.29ZM68.78 361H71.28V311.79H68.78ZM71.28 361H73.78V285.56H71.28ZM73.78 361H76.28V293.24H73.78ZM76.28 361H78.78V302.22H76.28ZM78.78 361H81.27V305.29H78.78ZM81.27 361H83.77V307.61H81.27ZM83.77 361H86.27V307.41H83.77ZM86.27 361H88.77V304.8H86.27ZM88.77 361H91.26V303.8H88.77ZM91.26 361H93.76V302.41H91.26ZM93.76 361H96.26V300.71H93.76ZM96.26 361H98.75V298.75H96.26ZM98.75 361H101.25V308.27H98.75ZM101.25 361H103.75V310.16H101.25ZM103.75 361H106.25V315.78H103.75ZM106.25 361H108.75V337.54H106.25ZM108.75 361H111.24V349.74H108.75ZM111.24 361H113.74V351.41H111.24ZM113.74 361H123.73V351.42H113.74ZM123.73 361H126.23V350.26H123.73ZM126.23 361H128.72V342.71H126.23ZM128.72 361H131.22V321.33H128.72ZM131.22 361H133.72V288.26H131.22ZM133.72 361H136.22V291.67H133.72ZM136.22 361H138.72V304.57H136.22ZM138.72 361H141.21V308.91H138.72ZM141.21 361H143.71V309.11H141.21ZM143.71 361H146.21V307.89H143.71ZM146.21 361H148.7V306.29H146.21ZM148.7 361H151.2V304.38H148.7ZM151.2 361H153.7V302.89H151.2ZM153.7 361H156.2V301.1H153.7ZM156.2 361H158.69V298.6H156.2ZM158.69 361H161.19V307.76H158.69ZM161.19 361H163.69V309.93H161.19ZM163.69 361H166.19V317.33H163.69ZM166.19 361H168.69V344.01H166.19ZM168.69 361H171.18V351.08H168.69ZM171.18 361H183.67V351.42H171.18ZM183.67 361H186.17V349.03H183.67ZM186.17 361H188.67V340.82H186.17ZM188.67 361H191.16V313.72H188.67ZM191.16 361H193.66V288.97H191.16ZM193.66 361H196.16V299.21H193.66ZM196.16 361H198.65V308.32H196.16ZM198.65 361H201.15V310.2H198.65ZM201.15 361H203.65V312.59H201.15ZM203.65 361H206.15V312.69H203.65ZM206.15 361H208.64V306.34H206.15ZM208.64 361H211.14V299.85H208.64ZM211.14 361H213.64V294.47H211.14ZM213.64 361H216.14V292.53H213.64ZM216.14 361H218.63V297.41H216.14ZM218.63 361H221.13V307.26H218.63ZM221.13 361H223.63V309.43H221.13ZM223.63 361H226.13V316.08H223.63ZM226.13 361H228.62V336.82H226.13ZM228.62 361H231.12V349.68H228.62ZM231.12 361H233.62V351.39H231.12ZM233.62 361H243.61V351.42H233.62ZM243.61 361H246.11V349.75H243.61ZM246.11 361H248.61V342.25H246.11ZM248.61 361H251.1V322.21H248.61ZM251.1 361H253.6V293.01H251.1ZM253.6 361H256.1V296.27H253.6ZM256.1 361H258.6V306.61H256.1ZM258.6 361H261.09V311.21H258.6ZM261.09 361H263.59V314.12H261.09ZM263.59 361H266.09V315.1H263.59ZM266.09 361H268.58V312.96H266.09ZM268.58 361H271.08V310.62H268.58ZM271.08 361H273.58V308H271.08ZM273.58 361H276.08V303H273.58ZM276.08 361H278.57V299H276.08ZM278.57 361H281.07V307.04H278.57ZM281.07 361H283.57V309.01H281.07ZM283.57 361H286.07V316.08H283.57ZM286.07 361H288.56V342.69H286.07ZM288.56 361H291.06V351.01H288.56ZM291.06 361H293.56V351.42H291.06ZM293.56 361H296.06V350.67H293.56ZM296.06 361H303.55V340.34H296.06ZM303.55 361H306.05V338.78H303.55ZM306.05 361H308.55V334.35H306.05ZM308.55 361H311.04V314.87H308.55ZM311.04 361H313.54V289H311.04ZM313.54 361H316.04V294.96H313.54ZM316.04 361H318.54V301.87H316.04ZM318.54 361H321.03V305.65H318.54ZM321.03 361H323.53V296.95H321.03ZM323.53 361H326.03V306.03H323.53ZM326.03 361H328.53V296.14H326.03ZM328.53 361H331.02V294H328.53ZM331.02 361H333.52V302.69H331.02ZM333.52 361H336.02V300.87H333.52ZM336.02 361H338.52V300.13H336.02ZM338.52 361H341.01V307.62H338.52ZM341.01 361H343.51V309.97H341.01ZM343.51 361H346.01V315.81H343.51ZM346.01 361H348.5V335.5H346.01ZM348.5 361H351V349.38H348.5ZM351 361H353.5V351.37H351ZM353.5 361H363.49V351.42H353.5ZM363.49 361H365.99V347.87H363.49ZM365.99 361H368.49V335.15H365.99ZM368.49 361H370.98V320.55H368.49ZM370.98 361H373.48V312.58H370.98ZM373.48 361H375.98V315.4H373.48ZM375.98 361H378.48V319.4H375.98ZM378.48 361H380.97V321.8H378.48ZM380.97 361H383.47V323.59H380.97ZM383.47 361H385.97V319.63H383.47ZM385.97 361H388.47V320.46H385.97ZM388.47 361H390.96V317.66H388.47ZM390.96 361H393.46V314.33H390.96ZM393.46 361H395.96V311.62H393.46ZM395.96 361H398.46V309.54H395.96ZM398.46 361H400.95V309.39H398.46ZM400.95 361H403.45V309.26H400.95ZM403.45 361H405.95V323.81H403.45ZM405.95 361H408.44V346.36H405.95ZM408.44 361H410.94V351.14H408.44ZM410.94 361H423.43V351.42H410.94ZM423.43 361H425.93V348.67H423.43ZM425.93 361H428.43V335.84H425.93ZM428.43 361H430.92V322.11H428.43ZM430.92 361H433.42V321.23H430.92ZM433.42 361H435.92V324.18H433.42ZM435.92 361H438.42V326.54H435.92ZM438.42 361H440.91V328.3H438.42ZM440.91 361H443.41V326.67H440.91ZM443.41 361H445.91V326.65H443.41ZM445.91 361H448.41V325.83H445.91ZM448.41 361H450.9V323.59H448.41ZM450.9 361H453.4V322.47H450.9ZM453.4 361H455.9V321.24H453.4ZM455.9 361H458.4V319.2H455.9ZM458.4 361H460.89V319.2H458.4ZM460.89 361H463.39V319.62H460.89ZM463.39 361H465.89V327.27H463.39ZM465.89 361H468.39V345.78H465.89ZM468.39 361H470.88V350.12H468.39ZM470.88 361H473.38V351.19H470.88Z"/><path fill="#ffb300" d="M73.78 361H76.28V359.85H73.78ZM76.28 361H78.78V358.59H76.28ZM78.78 361H81.27V356.71H78.78ZM81.27 361H86.27V354.19H81.27ZM86.27 361H88.77V356.71H86.27ZM88.77 361H91.26V357.96H88.77ZM91.26 361H93.76V359.47H91.26ZM93.76 361H96.26V360.48H93.76ZM131.22 361H133.72V360.23H131.22ZM133.72 361H136.22V358.59H133.72ZM136.22 361H138.72V356.08H136.22ZM138.72 361H141.21V353.56H138.72ZM141.21 361H143.71V353.31H141.21ZM143.71 361H146.21V354.82H143.71ZM146.21 361H148.7V356.08H146.21ZM148.7 361H151.2V357.96H148.7ZM151.2 361H156.2V359.6H151.2ZM191.16 361H193.66V358.97H191.16ZM193.66 361H196.16V355.45H193.66ZM196.16 361H198.65V351.67H196.16ZM198.65 361H201.15V352.93H198.65ZM201.15 361H203.65V348.15H201.15ZM203.65 361H206.15V336.32H203.65ZM206.15 361H208.64V346.01H206.15ZM208.64 361H211.14V351.04H208.64ZM211.14 361H213.64V357.34H211.14ZM213.64 361H216.14V359.6H213.64ZM251.1 361H253.6V358.59H251.1ZM253.6 361H256.1V351.67H253.6ZM256.1 361H258.6V344.12H256.1ZM258.6 361H261.09V351.67H258.6ZM261.09 361H263.59V346.64H261.09ZM263.59 361H266.09V339.71H263.59ZM266.09 361H268.58V334.05H266.09ZM268.58 361H271.08V343.49H268.58ZM271.08 361H273.58V352.93H271.08ZM273.58 361H276.08V358.59H273.58ZM311.04 361H316.04V359.85H311.04ZM316.04 361H318.54V358.59H316.04ZM318.54 361H321.03V356.71H318.54ZM321.03 361H326.03V355.45H321.03ZM326.03 361H328.53V356.71H326.03ZM328.53 361H333.52V357.96H328.53ZM333.52 361H336.02V359.6H333.52ZM373.48 361H375.98V357.96H373.48ZM375.98 361H378.48V349.15H375.98ZM378.48 361H380.97V347.27H378.48ZM380.97 361H383.47V342.86H380.97ZM383.47 361H385.97V352.93H383.47ZM385.97 361H388.47V346.64H385.97ZM388.47 361H390.96V353.56H388.47ZM390.96 361H393.46V357.34H390.96ZM393.46 361H395.96V359.22H393.46ZM430.92 361H433.42V357.96H430.92ZM433.42 361H435.92V348.53H433.42ZM435.92 361H438.42V339.71H435.92ZM438.42 361H440.91V334.05H438.42ZM440.91 361H443.41V333.42H440.91ZM443.41 361H445.91V331.28H443.41ZM445.91 361H448.41V342.86H445.91ZM448.41 361H450.9V354.19H448.41ZM450.9 361H453.4V357.34H450.9ZM453.4 361H455.9V359.22H453.4Z"/><polyline fill="none" stroke="#161616" stroke-width="1.12" stroke-linejoin="round" stroke-linecap="round" points="54.66,351.42 62.84,351.42 65.36,349.15 67.88,339.09 69.77,315.17 71.65,291.26 72.66,284.71 75.18,293.78 77.32,301.96 79.84,305.1 82.35,307.62 85.5,307.37 87.39,304.85 90.53,303.59 94.31,301.33 97.46,298.56 99.97,308.25 102.49,310.14 105.01,315.8 106.9,331.53 108.15,344.12 110.42,351.04 112.56,351.42 123.89,351.42 126.03,349.15 128.29,339.09 130.56,315.17 132.07,291.26 132.95,284.71 135.21,292.52 137.1,303.84 139.62,308.88 142.77,309.13 146.54,306.99 150.32,304.1 154.09,301.96 157.49,298.56 159.76,307.62 162.27,309.51 164.79,315.8 166.3,331.53 167.56,345.38 169.83,351.04 170.89,351.42 182.84,351.42 185.36,348.53 187.88,339.09 189.77,315.17 192.54,287.73 194.8,298.81 197.32,308.25 199.84,310.14 202.73,312.91 205.25,312.65 207.39,306.36 210.53,298.18 213.05,293.15 214.56,291.89 217.46,297.55 219.97,307.62 222.49,309.51 225.01,316.43 226.9,331.53 228.15,345.38 230.42,351.04 232.56,351.42 243.26,351.42 246.03,348.53 248.29,337.83 250.56,315.17 252.7,288.74 255.21,297.55 257.73,308.25 260.88,312.65 264.02,315.8 268.43,312.03 272.21,308.25 275.35,301.96 277.62,298.56 279.76,306.99 282.27,308.88 284.79,315.8 286.3,331.53 287.56,345.38 289.83,351.04 290.89,351.42 294.66,351.42 296.8,340.34 302.84,340.34 305.99,337.83 307.88,332.79 309.77,315.17 311.65,293.78 312.91,284.34 314.8,295.03 317.32,301.96 319.84,305.73 322.1,296.29 324.87,306.36 327.39,295.66 329.53,293.15 332.42,303.22 336.83,298.81 339.97,308.25 342.49,310.14 345.01,316.43 346.9,331.53 348.15,345.38 350.42,351.04 352.56,351.42 363.26,351.42 365.77,345.38 368.29,327.76 370.56,316.43 372.07,312.4 374.59,315.17 377.73,320.21 382.14,323.73 384.65,319.58 386.54,321.21 389.69,317.69 393.46,312.65 397.24,309.51 402.27,309.26 404.03,315.17 405.29,331.53 406.8,345.38 409.07,351.04 411.59,351.42 422.28,351.42 424.8,348.53 426.69,339.09 428.58,326.5 429.84,321.47 432.35,321.21 435.5,325.24 439.53,328.39 442.42,326.5 446.2,326.75 449.34,323.73 454.38,321.47 457.15,319.2 461.93,319.2 463.82,322.98 465.45,331.53 466.96,345.38 468.85,349.78 473.26,351.67"/><path fill="#ffe082" d="M569.85 361H572.35V355.65H569.85ZM572.35 361H574.85V355.28H572.35ZM574.85 361H577.36V353.9H574.85ZM577.36 361H579.86V353.4H577.36ZM579.86 361H582.36V351.21H579.86ZM582.36 361H584.86V342.26H582.36ZM584.86 361H587.36V318.92H584.86ZM587.36 361H589.87V300.65H587.36ZM589.87 361H592.37V307.11H589.87ZM592.37 361H594.87V316.76H592.37ZM594.87 361H597.37V318.73H594.87ZM597.37 361H599.87V319.31H597.37ZM599.87 361H602.38V319.49H599.87ZM602.38 361H604.88V319.32H602.38ZM604.88 361H607.38V318.44H604.88ZM607.38 361H609.88V315.74H607.38ZM609.88 361H612.38V313.22H609.88ZM612.38 361H614.89V310.71H612.38ZM614.89 361H617.39V314.99H614.89ZM617.39 361H619.89V313.29H617.39ZM619.89 361H622.39V324.05H619.89ZM622.39 361H624.89V347.05H622.39ZM624.89 361H627.4V353.84H624.89ZM627.4 361H629.9V354.78H627.4ZM629.9 361H639.91V355.45H629.9ZM639.91 361H642.41V353.07H639.91ZM642.41 361H644.91V339.97H642.41ZM644.91 361H647.41V319.01H644.91ZM647.41 361H649.91V304.91H647.41ZM649.91 361H652.42V307.25H649.91ZM652.42 361H654.92V317.1H652.42ZM654.92 361H657.42V317.35H654.92ZM657.42 361H659.92V317.88H657.42ZM659.92 361H662.42V316.36H659.92ZM662.42 361H664.93V317.53H662.42ZM664.93 361H667.43V319.92H664.93ZM667.43 361H669.93V319.65H667.43ZM669.93 361H672.43V315.3H669.93ZM672.43 361H674.93V309.62H672.43ZM674.93 361H677.44V314.96H674.93ZM677.44 361H679.94V314.15H677.44ZM679.94 361H682.44V325.93H679.94ZM682.44 361H684.94V350.49H682.44ZM684.94 361H687.44V354.25H684.94ZM687.44 361H699.95V355.2H687.44ZM699.95 361H702.46V352.1H699.95ZM702.46 361H704.96V341.43H702.46ZM704.96 361H707.46V317.8H704.96ZM707.46 361H709.96V300.83H707.46ZM709.96 361H712.46V309.91H709.96ZM712.46 361H714.97V317.8H712.46ZM714.97 361H717.47V318.47H714.97ZM717.47 361H719.97V319.7H717.47ZM719.97 361H722.47V316.11H719.97ZM722.47 361H724.97V308.86H722.47ZM724.97 361H727.48V309.98H724.97ZM727.48 361H729.98V309.14H727.48ZM729.98 361H732.48V306.26H729.98ZM732.48 361H734.98V311.72H732.48ZM734.98 361H737.48V316.83H734.98ZM737.48 361H739.99V315.02H737.48ZM739.99 361H742.49V324.11H739.99ZM742.49 361H744.99V350.53H742.49ZM744.99 361H747.49V354.83H744.99ZM747.49 361H749.99V355.24H747.49ZM749.99 361H760V355.45H749.99ZM760 361H762.5V351.73H760ZM762.5 361H765.01V338.26H762.5ZM765.01 361H767.51V317.95H765.01ZM767.51 361H770.01V306.29H767.51ZM770.01 361H772.51V308.59H770.01ZM772.51 361H775.01V319.51H772.51ZM775.01 361H777.52V320.46H775.01ZM777.52 361H780.02V320.79H777.52ZM780.02 361H782.52V317.28H780.02ZM782.52 361H785.02V314.72H782.52ZM785.02 361H787.52V312.51H785.02ZM787.52 361H790.03V311.71H787.52ZM790.03 361H792.53V310.88H790.03ZM792.53 361H795.03V312.08H792.53ZM795.03 361H797.53V313.94H795.03ZM797.53 361H800.03V313.65H797.53ZM800.03 361H802.54V326.36H800.03ZM802.54 361H805.04V352.01H802.54ZM805.04 361H807.54V355.05H805.04ZM807.54 361H810.04V355.2H807.54ZM810.04 361H812.54V354.95H810.04ZM812.54 361H815.05V354.17H812.54ZM815.05 361H820.05V355.2H815.05ZM820.05 361H822.55V352.06H820.05ZM822.55 361H825.05V340.59H822.55ZM825.05 361H827.56V316.76H825.05ZM827.56 361H830.06V304.2H827.56ZM830.06 361H832.56V309.43H830.06ZM832.56 361H835.06V319.01H832.56ZM835.06 361H837.56V319.25H835.06ZM837.56 361H840.07V319.49H837.56ZM840.07 361H842.57V319.47H840.07ZM842.57 361H845.07V319.31H842.57ZM845.07 361H847.57V318.34H845.07ZM847.57 361H850.07V316.27H847.57ZM850.07 361H852.58V316.7H850.07ZM852.58 361H855.08V313.62H852.58ZM855.08 361H857.58V316.33H855.08ZM857.58 361H860.08V314.92H857.58ZM860.08 361H862.58V324.33H860.08ZM862.58 361H865.09V349.68H862.58ZM865.09 361H867.59V354.84H865.09ZM867.59 361H870.09V355.26H867.59ZM870.09 361H880.1V355.45H870.09ZM880.1 361H882.6V353.5H880.1ZM882.6 361H885.1V340.62H882.6ZM885.1 361H887.6V325.22H885.1ZM887.6 361H890.11V321.02H887.6ZM890.11 361H892.61V322.72H890.11ZM892.61 361H895.11V323.1H892.61ZM895.11 361H897.61V320.78H895.11ZM897.61 361H900.11V319.17H897.61ZM900.11 361H902.62V318.34H900.11ZM902.62 361H905.12V320.19H902.62ZM905.12 361H907.62V322.07H905.12ZM907.62 361H910.12V323.9H907.62ZM910.12 361H912.62V320.79H910.12ZM912.62 361H915.13V317.75H912.62ZM915.13 361H917.63V314.69H915.13ZM917.63 361H920.13V303.1H917.63ZM920.13 361H922.63V320.82H920.13ZM922.63 361H925.13V349.95H922.63ZM925.13 361H927.64V354.13H925.13ZM927.64 361H930.14V355.11H927.64ZM930.14 361H932.64V354.01H930.14ZM932.64 361H935.14V355.2H932.64ZM935.14 361H937.64V355.15H935.14ZM937.64 361H940.15V354.15H937.64ZM940.15 361H942.65V353.18H940.15ZM942.65 361H945.15V341.17H942.65ZM945.15 361H947.65V328.36H945.15ZM947.65 361H950.15V327.82H947.65ZM950.15 361H952.66V331.98H950.15ZM952.66 361H955.16V331.28H952.66ZM955.16 361H957.66V331.78H955.16ZM957.66 361H960.16V331.37H957.66ZM960.16 361H962.66V328.73H960.16ZM962.66 361H965.17V332.71H962.66ZM965.17 361H967.67V332.44H965.17ZM967.67 361H970.17V331.28H967.67ZM970.17 361H972.67V327.28H970.17ZM972.67 361H975.17V325.08H972.67ZM975.17 361H977.68V325.23H975.17ZM977.68 361H980.18V323.14H977.68ZM980.18 361H982.68V326.89H980.18ZM982.68 361H985.18V348.5H982.68ZM985.18 361H987.68V353.28H985.18ZM987.68 361H990.19V354.33H987.68Z"/><path fill="#ffb300" d="M579.86 361H582.36V359.22H579.86ZM582.36 361H584.86V355.45H582.36ZM584.86 361H587.36V345.38H584.86ZM587.36 361H589.87V339.09H587.36ZM589.87 361H592.37V333.8H589.87ZM592.37 361H594.87V333.42H592.37ZM594.87 361H597.37V326.5H594.87ZM597.37 361H602.38V320.21H597.37ZM602.38 361H604.88V330.28H602.38ZM604.88 361H607.38V337.83H604.88ZM607.38 361H609.88V339.71H607.38ZM609.88 361H612.38V344.12H609.88ZM612.38 361H614.89V351.67H612.38ZM614.89 361H617.39V357.34H614.89ZM642.41 361H644.91V358.97H642.41ZM644.91 361H647.41V355.45H644.91ZM647.41 361H649.91V344.75H647.41ZM649.91 361H652.42V333.42H649.91ZM652.42 361H654.92V327.76H652.42ZM654.92 361H657.42V324.61H654.92ZM657.42 361H662.42V321.47H657.42ZM662.42 361H664.93V326.5H662.42ZM664.93 361H667.43V332.79H664.93ZM667.43 361H669.93V337.2H667.43ZM669.93 361H672.43V345.38H669.93ZM672.43 361H674.93V352.93H672.43ZM674.93 361H677.44V357.96H674.93ZM699.95 361H702.46V359.22H699.95ZM702.46 361H707.46V356.08H702.46ZM707.46 361H709.96V351.67H707.46ZM709.96 361H712.46V342.86H709.96ZM712.46 361H714.97V335.94H712.46ZM714.97 361H717.47V333.42H714.97ZM717.47 361H719.97V331.53H717.47ZM719.97 361H724.97V325.24H719.97ZM724.97 361H727.48V333.42H724.97ZM727.48 361H729.98V342.23H727.48ZM729.98 361H732.48V349.15H729.98ZM732.48 361H734.98V353.56H732.48ZM734.98 361H737.48V357.34H734.98ZM760 361H762.5V358.97H760ZM762.5 361H765.01V355.45H762.5ZM765.01 361H767.51V349.15H765.01ZM767.51 361H770.01V347.27H767.51ZM770.01 361H772.51V349.15H770.01ZM772.51 361H775.01V343.49H772.51ZM775.01 361H777.52V331.28H775.01ZM777.52 361H780.02V336.57H777.52ZM780.02 361H782.52V344.12H780.02ZM782.52 361H785.02V347.27H782.52ZM785.02 361H787.52V349.15H785.02ZM787.52 361H790.03V351.67H787.52ZM790.03 361H792.53V353.56H790.03ZM792.53 361H795.03V355.45H792.53ZM795.03 361H797.53V358.59H795.03ZM820.05 361H822.55V359.22H820.05ZM822.55 361H825.05V355.45H822.55ZM825.05 361H827.56V346.64H825.05ZM827.56 361H830.06V338.46H827.56ZM830.06 361H832.56V330.28H830.06ZM832.56 361H835.06V325.24H832.56ZM835.06 361H845.07V320.21H835.06ZM845.07 361H847.57V327.76H845.07ZM847.57 361H850.07V334.05H847.57ZM850.07 361H852.58V339.71H850.07ZM852.58 361H855.08V349.15H852.58ZM855.08 361H857.58V357.34H855.08ZM882.6 361H885.1V359.22H882.6ZM885.1 361H887.6V357.34H885.1ZM887.6 361H890.11V351.67H887.6ZM890.11 361H892.61V349.78H890.11ZM892.61 361H895.11V348.9H892.61ZM895.11 361H897.61V354.82H895.11ZM897.61 361H900.11V358.59H897.61ZM900.11 361H902.62V359.22H900.11ZM902.62 361H905.12V355.45H902.62ZM905.12 361H907.62V352.93H905.12ZM907.62 361H910.12V352.3H907.62ZM910.12 361H912.62V355.45H910.12ZM912.62 361H915.13V356.71H912.62ZM915.13 361H917.63V358.59H915.13ZM942.65 361H945.15V357.96H942.65ZM945.15 361H947.65V352.3H945.15ZM947.65 361H950.15V353.56H947.65ZM950.15 361H952.66V346.01H950.15ZM952.66 361H955.16V332.79H952.66ZM955.16 361H962.66V331.79H955.16ZM962.66 361H965.17V334.05H962.66ZM965.17 361H967.67V337.83H965.17ZM967.67 361H970.17V346.64H967.67ZM970.17 361H972.67V354.82H970.17ZM972.67 361H977.68V357.34H972.67Z"/><polyline fill="none" stroke="#161616" stroke-width="1.12" stroke-linejoin="round" stroke-linecap="round" points="570.56,355.7 573.33,355.45 575.84,353.94 578.36,353.56 580.88,351.92 583.4,344.12 585.28,327.76 587.17,307.62 588.68,300.32 590.95,306.36 593.21,316.43 595.98,318.7 599.76,319.58 605.42,319.2 608.57,315.8 611.09,313.28 613.35,310.14 615.87,315.17 618.64,313.28 620.9,321.47 622.41,337.83 623.92,349.15 626.19,353.94 630.59,355.45 638.77,355.45 641.29,352.93 643.18,344.12 645.07,327.76 646.96,312.65 648.59,304.85 651.11,306.99 653.25,317.06 657.02,317.44 658.91,317.94 661.43,316.18 663.95,317.69 666.46,320.21 668.98,319.58 671.25,315.17 673.39,308.88 675.9,315.17 678.42,313.28 680.94,321.47 682,340.34 683.89,351.67 687.03,355.2 698.99,355.2 701.51,351.67 703.4,344.12 705.28,327.76 706.92,310.14 708.43,299.82 710.95,308.88 713.21,317.69 715.98,318.32 718.5,319.95 721.02,317.06 722.9,308.25 725.42,310.14 728.57,309.51 730.46,305.1 732.97,308.88 735.49,318.32 738.01,313.28 740.9,320.21 742.41,337.83 743.67,350.41 746.19,354.82 749.96,355.45 758.77,355.45 761.29,351.67 763.18,342.86 765.07,327.76 767.59,306.99 770.73,305.1 772.87,319.2 775.77,320.21 778.28,321.47 781.43,317.06 785.83,312.65 788.98,311.65 792.76,310.39 795.27,314.54 798.42,312.65 800.94,319.58 802,340.34 803.51,351.67 806.41,355.2 810.81,355.2 813.33,353.94 815.84,355.2 819.62,355.2 821.51,351.67 823.4,344.12 825.28,327.76 826.92,310.14 828.43,303.59 830.95,307.62 833.21,318.95 839.76,319.58 845.42,319.2 848.57,316.18 851.09,317.06 853.6,313.28 855.87,316.68 858.64,314.54 860.9,318.95 862.41,337.83 863.92,350.41 866.19,354.82 869.96,355.45 879.4,355.45 881.92,352.93 883.56,342.86 885.7,326.5 888.59,320.84 891.36,322.72 893.88,323.1 897.65,319.58 901.43,318.32 905.21,321.21 908.98,323.98 912.76,318.95 916.28,315.17 918.8,302.59 921.17,317.69 922.68,340.34 923.94,350.41 926.84,354.82 928.72,355.2 931.24,353.94 933.76,355.2 936.28,355.2 939.42,353.94 941.31,353.56 943.2,345.38 945.09,334.05 946.34,328.39 948.61,327.13 950.75,332.16 953.9,331.28 958.3,332.16 961.2,328.39 963.96,332.79 968.37,332.16 971.52,327.13 974.03,324.99 976.55,325.24 978.82,322.98 981.59,327.13 982.84,340.34 984.1,349.78 986.62,353.56 990.4,354.82"/><path fill="#03a9f4" d="M53.8 543.9H473.38V532.58H53.8Z"/><polyline fill="none" stroke="#161616" stroke-width="1.12" stroke-linejoin="round" stroke-linecap="round" points="55.05,532.58 472.13,532.58"/><path fill="#81d4fa" d="M569.85 543.9H592.37V533.16H569.85ZM592.37 543.9H594.87V533.09H592.37ZM594.87 543.9H597.37V531.95H594.87ZM597.37 543.9H599.87V530.18H597.37ZM599.87 543.9H602.38V526.94H599.87ZM602.38 543.9H604.88V522.77H602.38ZM604.88 543.9H607.38V518.96H604.88ZM607.38 543.9H609.88V516.12H607.38ZM609.88 543.9H612.38V515.78H609.88ZM612.38 543.9H614.89V521.29H612.38ZM614.89 543.9H617.39V527.76H614.89ZM617.39 543.9H619.89V529.43H617.39ZM619.89 543.9H622.39V531.14H619.89ZM622.39 543.9H624.89V532.89H622.39ZM624.89 543.9H627.4V533.4H624.89ZM627.4 543.9H647.41V533.41H627.4ZM647.41 543.9H649.91V533.08H647.41ZM649.91 543.9H652.42V530.72H649.91ZM652.42 543.9H654.92V526.07H652.42ZM654.92 543.9H657.42V521.87H654.92ZM657.42 543.9H659.92V518.3H657.42ZM659.92 543.9H662.42V512.97H659.92ZM662.42 543.9H664.93V507.08H662.42ZM664.93 543.9H667.43V503.61H664.93ZM667.43 543.9H669.93V501.98H667.43ZM669.93 543.9H672.43V504.18H669.93ZM672.43 543.9H674.93V514.3H672.43ZM674.93 543.9H677.44V525.01H674.93ZM677.44 543.9H679.94V528.64H677.44ZM679.94 543.9H682.44V530.59H679.94ZM682.44 543.9H684.94V532.59H682.44ZM684.94 543.9H707.46V533.41H684.94ZM707.46 543.9H709.96V531.87H707.46ZM709.96 543.9H712.46V526.93H709.96ZM712.46 543.9H714.97V520.96H712.46ZM714.97 543.9H717.47V516.14H714.97ZM717.47 543.9H719.97V513.14H717.47ZM719.97 543.9H722.47V503.02H719.97ZM722.47 543.9H724.97V495.57H722.47ZM724.97 543.9H727.48V491.87H724.97ZM727.48 543.9H729.98V489.99H727.48ZM729.98 543.9H732.48V491.27H729.98ZM732.48 543.9H734.98V503.48H732.48ZM734.98 543.9H737.48V521.28H734.98ZM737.48 543.9H739.99V525.96H737.48ZM739.99 543.9H742.49V528.52H739.99ZM742.49 543.9H744.99V532.8H742.49ZM744.99 543.9H765.01V533.41H744.99ZM765.01 543.9H767.51V531.63H765.01ZM767.51 543.9H770.01V524.94H767.51ZM770.01 543.9H772.51V513.77H770.01ZM772.51 543.9H775.01V500.69H772.51ZM775.01 543.9H777.52V492.57H775.01ZM777.52 543.9H780.02V491.32H777.52ZM780.02 543.9H782.52V486.93H780.02ZM782.52 543.9H785.02V483.03H782.52ZM785.02 543.9H787.52V480.4H785.02ZM787.52 543.9H790.03V479.58H787.52ZM790.03 543.9H792.53V481.63H790.03ZM792.53 543.9H795.03V496.79H792.53ZM795.03 543.9H797.53V520.83H795.03ZM797.53 543.9H800.03V524.96H797.53ZM800.03 543.9H802.54V527.94H800.03ZM802.54 543.9H805.04V532.62H802.54ZM805.04 543.9H822.55V533.41H805.04ZM822.55 543.9H825.05V532.96H822.55ZM825.05 543.9H827.56V526.61H825.05ZM827.56 543.9H830.06V508.84H827.56ZM830.06 543.9H832.56V494.61H830.06ZM832.56 543.9H835.06V484.01H832.56ZM835.06 543.9H837.56V475.99H835.06ZM837.56 543.9H840.07V470.98H837.56ZM840.07 543.9H842.57V463.9H840.07ZM842.57 543.9H845.07V449.36H842.57ZM845.07 543.9H847.57V442.14H845.07ZM847.57 543.9H852.58V438.26H847.57ZM852.58 543.9H855.08V456.24H852.58ZM855.08 543.9H857.58V496.97H855.08ZM857.58 543.9H860.08V516.18H857.58ZM860.08 543.9H862.58V521.54H860.08ZM862.58 543.9H865.09V529.96H862.58ZM865.09 543.9H867.59V532.72H865.09ZM867.59 543.9H885.1V533.16H867.59ZM885.1 543.9H887.6V532.49H885.1ZM887.6 543.9H890.11V531.01H887.6ZM890.11 543.9H892.61V529.01H890.11ZM892.61 543.9H895.11V528.01H892.61ZM895.11 543.9H897.61V527.6H895.11ZM897.61 543.9H900.11V527.8H897.61ZM900.11 543.9H902.62V528H900.11ZM902.62 543.9H905.12V527.76H902.62ZM905.12 543.9H907.62V527.51H905.12ZM907.62 543.9H910.12V527.69H907.62ZM910.12 543.9H912.62V528.38H910.12ZM912.62 543.9H915.13V528.96H912.62ZM915.13 543.9H917.63V529.41H915.13ZM917.63 543.9H920.13V529.86H917.63ZM920.13 543.9H922.63V531.44H920.13ZM922.63 543.9H925.13V532.74H922.63ZM925.13 543.9H990.19V533.41H925.13Z"/><path fill="#03a9f4" d="M574.85 543.9H582.36V533.16H574.85ZM587.36 543.9H592.37V533.16H587.36ZM592.37 543.9H594.87V537.19H592.37ZM594.87 543.9H604.88V535.93H594.87ZM604.88 543.9H607.38V530.27H604.88ZM607.38 543.9H609.88V516.12H607.38ZM609.88 543.9H612.38V515.78H609.88ZM612.38 543.9H614.89V521.29H612.38ZM614.89 543.9H617.39V527.76H614.89ZM617.39 543.9H619.89V529.43H617.39ZM622.39 543.9H624.89V532.89H622.39ZM624.89 543.9H627.4V533.4H624.89ZM627.4 543.9H629.9V537.82H627.4ZM647.41 543.9H649.91V533.08H647.41ZM649.91 543.9H652.42V530.72H649.91ZM652.42 543.9H654.92V539.08H652.42ZM654.92 543.9H657.42V525.86H654.92ZM657.42 543.9H659.92V523.34H657.42ZM659.92 543.9H664.93V516.42H659.92ZM669.93 543.9H672.43V533.41H669.93ZM672.43 543.9H674.93V514.3H672.43ZM674.93 543.9H677.44V534.67H674.93ZM677.44 543.9H679.94V528.64H677.44ZM682.44 543.9H684.94V532.59H682.44ZM684.94 543.9H687.44V533.41H684.94ZM704.96 543.9H707.46V537.82H704.96ZM707.46 543.9H709.96V531.87H707.46ZM709.96 543.9H712.46V526.93H709.96ZM712.46 543.9H714.97V540.34H712.46ZM714.97 543.9H719.97V524.6H714.97ZM719.97 543.9H722.47V521.46H719.97ZM722.47 543.9H724.97V516.42H722.47ZM729.98 543.9H732.48V521.46H729.98ZM732.48 543.9H734.98V530.27H732.48ZM737.48 543.9H739.99V525.96H737.48ZM739.99 543.9H742.49V528.52H739.99ZM744.99 543.9H747.49V533.41H744.99ZM765.01 543.9H767.51V531.63H765.01ZM767.51 543.9H770.01V534.67H767.51ZM770.01 543.9H772.51V513.77H770.01ZM775.01 543.9H777.52V540.34H775.01ZM777.52 543.9H780.02V534.04H777.52ZM780.02 543.9H785.02V522.09H780.02ZM785.02 543.9H790.03V513.02H785.02ZM790.03 543.9H792.53V535.93H790.03ZM792.53 543.9H795.03V541.59H792.53ZM795.03 543.9H797.53V537.82H795.03ZM797.53 543.9H800.03V524.96H797.53ZM800.03 543.9H802.54V527.94H800.03ZM802.54 543.9H805.04V532.62H802.54ZM805.04 543.9H807.54V533.41H805.04ZM807.54 543.9H810.04V536.56H807.54ZM810.04 543.9H812.54V541.59H810.04ZM812.54 543.9H815.05V533.41H812.54ZM822.55 543.9H825.05V540.96H822.55ZM830.06 543.9H832.56V534.67H830.06ZM832.56 543.9H835.06V540.96H832.56ZM835.06 543.9H837.56V528.38H835.06ZM837.56 543.9H842.57V523.97H837.56ZM842.57 543.9H845.07V517.68H842.57ZM845.07 543.9H847.57V515.16H845.07ZM847.57 543.9H850.07V495.03H847.57ZM850.07 543.9H855.08V521.83H850.07ZM855.08 543.9H857.58V527.12H855.08ZM857.58 543.9H860.08V530.27H857.58ZM860.08 543.9H862.58V532.15H860.08ZM862.58 543.9H865.09V535.3H862.58ZM865.09 543.9H867.59V532.72H865.09ZM867.59 543.9H885.1V533.16H867.59ZM885.1 543.9H887.6V532.49H885.1ZM887.6 543.9H890.11V531.01H887.6ZM890.11 543.9H892.61V529.01H890.11ZM892.61 543.9H895.11V528.01H892.61ZM895.11 543.9H897.61V527.6H895.11ZM897.61 543.9H905.12V537.19H897.61ZM905.12 543.9H907.62V527.51H905.12ZM910.12 543.9H912.62V535.93H910.12ZM912.62 543.9H915.13V528.96H912.62ZM915.13 543.9H917.63V529.41H915.13ZM917.63 543.9H920.13V529.86H917.63ZM920.13 543.9H922.63V531.44H920.13ZM922.63 543.9H925.13V532.74H922.63ZM925.13 543.9H927.64V533.41H925.13ZM930.14 543.9H932.64V533.41H930.14ZM937.64 543.9H940.15V533.41H937.64ZM940.15 543.9H942.65V541.59H940.15ZM942.65 543.9H990.19V533.41H942.65Z"/><polyline fill="none" stroke="#161616" stroke-width="1.12" stroke-linejoin="round" stroke-linecap="round" points="570.56,533.16 593.47,533.16 597.87,531.15 601.02,527.12 604.79,520.83 607.94,516.42 610.83,515.16 612.97,519.57 616.12,527.75 619.9,530.27 623.67,532.91 626.19,533.41 648.21,533.41 650.73,531.53 655.14,523.34 659.54,517.05 663.32,507.61 665.83,503.84 668.73,501.95 671.5,504.47 674.02,515.79 676.53,526.49 680.31,530.27 682,530.9 684.52,533.41 707.17,533.41 709.69,530.9 712.84,522.71 715.98,516.42 719.13,512.65 722.28,498.17 725.42,492.51 728.57,489.99 730.83,489.99 732.97,496.91 734.86,513.28 736.37,522.09 738.64,525.86 741.15,528.38 743.67,532.78 746.19,533.41 765.07,533.41 767.59,529.64 770.1,519.57 772.62,506.98 775.14,493.14 778.91,491.25 782.69,484.33 785.83,480.55 788.73,479.54 791.5,481.81 793.39,491.88 794.9,510.76 796.28,520.83 798.42,524.6 800.94,527.12 802,529.64 803.89,532.78 805.78,533.41 823.4,533.41 825.66,530.9 827.17,520.83 829.06,506.98 831.58,493.14 833.72,484.33 835.98,476.65 839.76,469.1 841.65,462.81 843.53,450.22 846.05,442.67 848.32,438.26 851.71,438.26 853.35,451.48 854.61,464.06 855.49,480.43 856.12,493.14 856.88,506.98 858.64,515.79 861.15,520.83 863.04,528.38 864.93,532.15 867.45,533.16 885.07,533.16 888.21,531.53 891.36,529.01 895.14,527.5 901.43,528 907.72,527.37 912.76,528.76 919.05,529.89 922.83,532.41 925.97,533.41 933.76,533.41 990.14,533.41"/><g class="ax"><text x="52.65" y="585.6" text-anchor="middle">lundi</text><text x="112.6" y="585.6" text-anchor="middle">mardi</text><text x="172.55" y="585.6" text-anchor="middle">mercredi</text><text x="232.5" y="585.6" text-anchor="middle">jeudi</text><text x="292.45" y="585.6" text-anchor="middle">vendredi</text><text x="352.4" y="585.6" text-anchor="middle">samedi</text><text x="412.35" y="585.6" text-anchor="middle">dimanche</text><text x="472.3" y="585.6" text-anchor="middle">lundi</text><text x="566.4" y="585.6" text-anchor="middle">lundi</text><text x="626.47" y="585.6" text-anchor="middle">mardi</text><text x="686.54" y="585.6" text-anchor="middle">mercredi</text><text x="746.61" y="585.6" text-anchor="middle">jeudi</text><text x="806.68" y="585.6" text-anchor="middle">vendredi</text><text x="866.75" y="585.6" text-anchor="middle">samedi</text><text x="926.82" y="585.6" text-anchor="middle">dimanche</text><text x="986.89" y="585.6" text-anchor="middle">lundi</text></g><text class="ti" x="32.5" y="15.85" textLength="359.2" lengthAdjust="spacing">Exemple d'approvisionnement horaire du quartier en hiver</text><text class="ti" x="548.0" y="15.85" textLength="349.4" lengthAdjust="spacing">Exemple d'approvisionnement horaire du quartier en été</text></svg>
</body></html>
